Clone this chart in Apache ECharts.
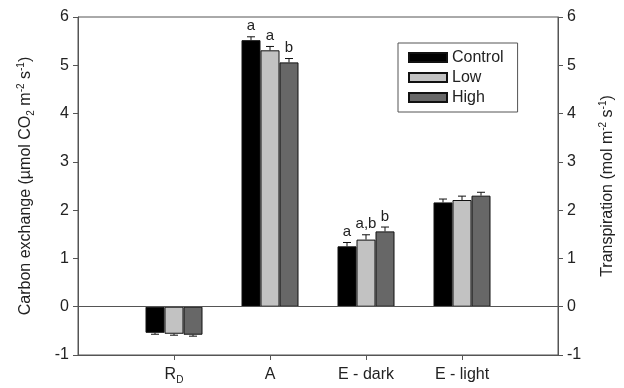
<!DOCTYPE html>
<html>
<head>
<meta charset="utf-8">
<script src="https://cdn.jsdelivr.net/npm/echarts@6/dist/echarts.min.js"></script>
<style>
  html, body { margin: 0; padding: 0; background: #fff; }
  #chart { width: 624px; height: 388px; }
</style>
</head>
<body>
<div id="chart"></div>
<script>
var categories = ['R_D', 'A', 'E - dark', 'E - light'];
var seriesNames = ['Control', 'Low', 'High'];

var controlValues = [-0.54, 5.52, 1.25, 2.16];
var lowValues = [-0.56, 5.31, 1.39, 2.21];
var highValues = [-0.58, 5.06, 1.56, 2.30];

var controlErr = [0.03, 0.07, 0.08, 0.07];
var lowErr = [0.03, 0.08, 0.10, 0.08];
var highErr = [0.03, 0.08, 0.09, 0.07];

var controlLetters = ['', 'a', 'a', ''];
var lowLetters = ['', 'a', 'a,b', ''];
var highLetters = ['', 'b', 'b', ''];

var colors = ['#000000', '#c2c2c2', '#676767'];
var barW = 19;
var font = 'Liberation Sans, Arial, sans-serif';
var textColor = '#222';
var lineColor = '#555';

// pad the category axis so that the groups sit at 1..4 of 0..5
var axisCats = [''].concat(categories).concat(['']);

var allValues = [controlValues, lowValues, highValues];
var allErr = [controlErr, lowErr, highErr];
var allLetters = [controlLetters, lowLetters, highLetters];

var series = [];
seriesNames.forEach(function (name, k) {
    series.push({
        name: name,
        type: 'bar',
        barWidth: barW,
        barGap: '0%',
        itemStyle: { color: colors[k], borderColor: '#111', borderWidth: 1 },
        data: allValues[k].map(function (v, i) { return [i + 1, v]; }),
        markLine: k === 0 ? {
            silent: true,
            symbol: 'none',
            label: { show: false },
            lineStyle: { color: lineColor, width: 1, type: 'solid' },
            data: [{ yAxis: 0 }]
        } : undefined
    });
});

seriesNames.forEach(function (name, k) {
    var offset = (k - 1) * barW;
    series.push({
        type: 'custom',
        silent: true,
        z: 3,
        data: allValues[k].map(function (v, i) {
            return [i + 1, v, allErr[k][i]];
        }),
        renderItem: function (params, api) {
            var idx = api.value(0);
            var v = api.value(1);
            var e = api.value(2);
            var letter = allLetters[k][idx - 1];
            var end = v >= 0 ? v + e : v - e;
            var p0 = api.coord([idx, v]);
            var p1 = api.coord([idx, end]);
            var x = p0[0] + offset;
            var children = [
                { type: 'line', shape: { x1: x, y1: p0[1], x2: x, y2: p1[1] },
                  style: { stroke: '#111', lineWidth: 1 } },
                { type: 'line', shape: { x1: x - 4, y1: p1[1], x2: x + 4, y2: p1[1] },
                  style: { stroke: '#111', lineWidth: 1 } }
            ];
            if (letter) {
                children.push({
                    type: 'text',
                    style: {
                        text: letter, x: x, y: p1[1] - 3,
                        align: 'center', verticalAlign: 'bottom',
                        font: '15px ' + font, fill: textColor
                    }
                });
            }
            return { type: 'group', children: children };
        }
    });
});

var yAxisBase = {
    type: 'value',
    min: -1,
    max: 6,
    interval: 1,
    nameLocation: 'middle',
    nameRotate: 90,
    axisLine: { show: true, lineStyle: { color: lineColor } },
    axisTick: { show: true, length: 5, lineStyle: { color: lineColor } },
    axisLabel: { color: textColor, fontSize: 16, fontFamily: font, margin: 9 },
    splitLine: { show: false }
};

var nameRich = {
    n: { fontSize: 16, fontFamily: font, color: textColor, lineHeight: 20 },
    sub: { fontSize: 10, fontFamily: font, color: textColor, verticalAlign: 'bottom', lineHeight: 20 },
    sup: { fontSize: 10, fontFamily: font, color: textColor, verticalAlign: 'top', lineHeight: 20 }
};

var option = {
    animation: false,
    backgroundColor: '#fff',
    grid: {
        left: 78, right: 64, top: 17, bottom: 33,
        show: true, borderColor: lineColor, borderWidth: 1
    },
    legend: {
        data: seriesNames.map(function (n) { return { name: n, icon: 'rect' }; }),
        orient: 'vertical',
        left: 398,
        top: 43,
        padding: [6, 14, 6, 10],
        itemWidth: 38,
        itemHeight: 9,
        itemGap: 3,
        borderColor: lineColor,
        borderWidth: 1,
        textStyle: { fontSize: 16, fontFamily: font, color: textColor, lineHeight: 17 }
    },
    xAxis: {
        type: 'category',
        data: axisCats,
        boundaryGap: false,
        axisLine: { onZero: false, lineStyle: { color: lineColor } },
        axisTick: {
            show: true, length: 5,
            interval: function (i) { return i > 0 && i < axisCats.length - 1; },
            lineStyle: { color: lineColor }
        },
        axisLabel: {
            interval: 0,
            margin: 10,
            formatter: function (v) {
                if (v === 'R_D') return '{n|R}{s|D}';
                return '{n|' + v + '}';
            },
            rich: {
                n: { fontSize: 16, fontFamily: font, color: textColor, lineHeight: 20 },
                s: { fontSize: 10, fontFamily: font, color: textColor, verticalAlign: 'bottom', lineHeight: 20 }
            }
        }
    },
    yAxis: [
        Object.assign({}, yAxisBase, {
            position: 'left',
            name: '{n|Carbon exchange (µmol CO}{sub|2}{n| m}{sup|-2}{n| s}{sup|-1}{n|)}',
            nameGap: 42,
            nameTextStyle: { rich: nameRich }
        }),
        Object.assign({}, yAxisBase, {
            position: 'right',
            name: '{n|Transpiration (mol m}{sup|-2}{n| s}{sup|-1}{n|)}',
            nameGap: 40,
            nameTextStyle: { rich: nameRich }
        })
    ],
    series: series
};

var chart = echarts.init(document.getElementById('chart'));
chart.setOption(option);
</script>
</body>
</html>
